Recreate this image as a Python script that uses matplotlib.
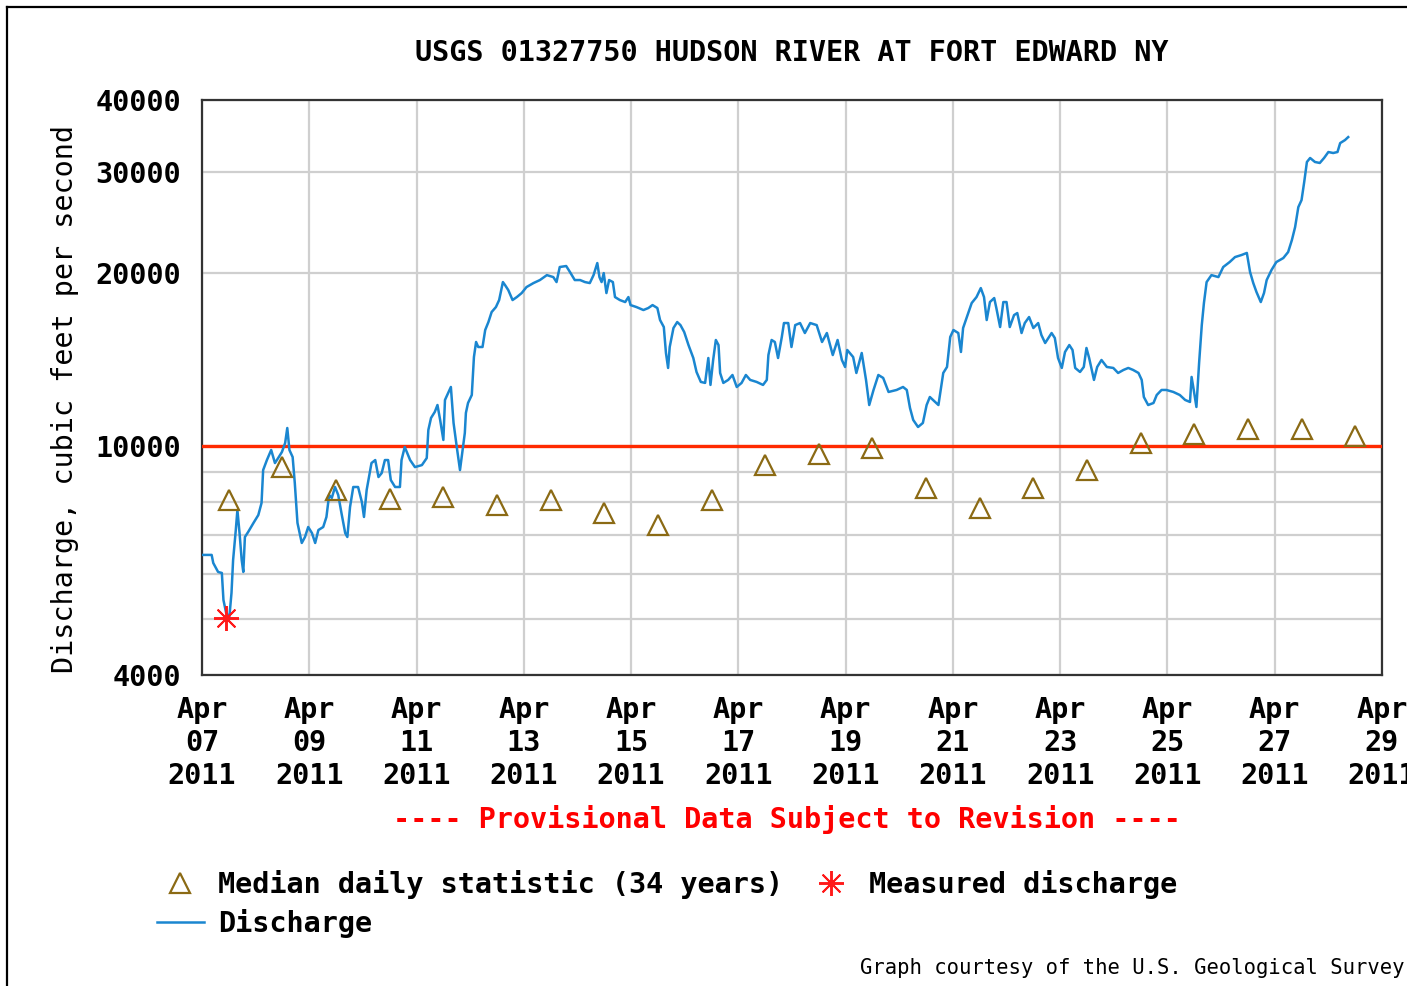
"""
USGS daily discharge graph for the Hudson River at Fort Edward, NY (April 2011).
"""

import pandas as pd
from matplotlib import pyplot, dates, ticker
from matplotlib.lines import Line2D

start = pd.Timestamp('2011-04-07')

# Instantaneous discharge (days since Apr 07 00:00, cfs).
q_days = [
    0.02, 0.18, 0.21, 0.30, 0.37, 0.40, 0.45, 0.51, 0.55, 0.58, 0.63, 0.66,
    0.70, 0.74, 0.77, 0.80, 0.86, 0.96, 1.05, 1.11, 1.14, 1.21, 1.29, 1.36,
    1.42, 1.49, 1.55, 1.59, 1.63, 1.69, 1.73, 1.78, 1.86, 1.92, 1.98, 2.05,
    2.11, 2.17, 2.26, 2.32, 2.37, 2.42, 2.48, 2.54, 2.60, 2.67, 2.71, 2.76,
    2.82, 2.91, 2.98, 3.02, 3.07, 3.16, 3.23, 3.29, 3.35, 3.41, 3.47, 3.52,
    3.60, 3.69, 3.72, 3.78, 3.88, 3.97, 4.10, 4.19, 4.22, 4.27, 4.34, 4.39,
    4.44, 4.50, 4.53, 4.59, 4.64, 4.69, 4.75, 4.81,
    4.90, 4.92, 4.96, 5.03, 5.07, 5.11, 5.15, 5.23, 5.28, 5.34, 5.40, 5.48,
    5.54, 5.61, 5.65, 5.71, 5.79, 5.87, 5.96, 6.05, 6.18, 6.30, 6.43, 6.55,
    6.61, 6.67, 6.79, 6.86, 6.95, 7.05, 7.14, 7.23, 7.30, 7.37, 7.41, 7.45,
    7.49, 7.54, 7.59, 7.66, 7.70, 7.79, 7.89, 7.95, 7.99, 8.10, 8.23, 8.32,
    8.40, 8.49, 8.54, 8.61, 8.65, 8.69, 8.72, 8.79, 8.86, 8.92, 8.99, 9.07,
    9.16, 9.22, 9.30, 9.38, 9.44, 9.48, 9.53, 9.58, 9.63, 9.66, 9.72, 9.81,
    9.89, 9.97, 10.06, 10.14, 10.22, 10.34,
    10.46, 10.53, 10.56, 10.62, 10.68, 10.74, 10.81, 10.85, 10.93, 10.99,
    11.06, 11.15, 11.24, 11.34, 11.46, 11.56, 11.65, 11.76, 11.85, 11.93,
    11.99, 12.03, 12.14, 12.20, 12.30, 12.38, 12.44, 12.52, 12.61, 12.70,
    12.80, 12.95, 13.07, 13.14, 13.20, 13.26, 13.35, 13.44, 13.51, 13.57,
    13.67, 13.73, 13.82, 13.89, 13.95, 14.01, 14.10, 14.15, 14.19, 14.26,
    14.35, 14.44, 14.52, 14.58, 14.63, 14.69, 14.77, 14.81, 14.88, 14.94,
    15.00, 15.06, 15.14, 15.20, 15.28, 15.34, 15.42, 15.50, 15.59, 15.65,
    15.72, 15.78, 15.84, 15.90, 15.96, 16.03, 16.09, 16.17, 16.23, 16.28,
    16.37, 16.44, 16.49, 16.54, 16.59, 16.63, 16.69, 16.77, 16.87, 16.99,
    17.08, 17.18, 17.27, 17.36, 17.46, 17.52, 17.56, 17.64, 17.74, 17.80,
    17.89, 17.98, 18.11, 18.23, 18.33, 18.42, 18.45, 18.49, 18.54, 18.59,
    18.64, 18.68, 18.73, 18.82, 18.95, 19.04, 19.16, 19.26, 19.38, 19.48,
    19.54, 19.60, 19.66, 19.74, 19.80, 19.85, 19.94, 20.03, 20.16, 20.25,
    20.32, 20.38, 20.44, 20.50, 20.55, 20.60, 20.66, 20.75, 20.84, 20.92,
    21.00, 21.09, 21.17, 21.22, 21.31, 21.37,
]
q_cfs = [
    6470, 6470, 6264, 6043, 6019, 5401, 5128, 5046, 5556, 6340, 7148, 7745,
    7062, 6340, 6043, 6951, 7091, 7354, 7590, 7966, 9088, 9460, 9849, 9347,
    9536, 9770, 10129, 10755, 9849, 9574, 8628, 7354, 6787, 6951, 7235, 7062,
    6787, 7148, 7235, 7532, 8224, 8128, 8492, 8224, 7652, 7062, 6951, 7838,
    8492, 8492, 8000, 7532, 8391, 9347, 9460, 8838, 8979, 9460, 9460, 8733,
    8492, 8492, 9460, 9967, 9460, 9197, 9271, 9536, 10670, 11197, 11470, 11792,
    11108, 10252, 12033, 12375, 12675, 10975, 9967, 9088,
    10542, 11423, 11889, 12275, 14291, 15178, 14876, 14876, 15924, 16440, 17112, 17457,
    17954, 19294, 19061, 18687, 17954, 18170, 18463, 18911, 19217, 19450, 19839, 19683,
    19294, 20493, 20574, 20088, 19450, 19450, 19294, 19217, 19839, 20820, 19683, 19294,
    20000, 18463, 19450, 19294, 18170, 17954, 17810, 18170, 17595, 17457, 17250, 17388,
    17595, 17388, 16573, 16115, 14524, 13679, 14876, 16051, 16440, 16240, 15797, 14994,
    14235, 13461, 12935, 12883, 14235, 12780, 14122, 15300, 14994, 13407, 12883, 13039,
    13299, 12675, 12883, 13299, 13039, 12935,
    12780, 13039, 14404, 15300, 15178, 14235, 15484, 16374, 16374, 14876,
    16240, 16374, 15733, 16374, 16240, 15178, 15733, 14404, 15300, 14122,
    13733, 14700, 14291, 13407, 14524, 13039, 11792, 12525, 13299, 13143,
    12425, 12525, 12675, 12525, 11654, 11108, 10798, 10975, 11792, 12177,
    11937, 11792, 13407, 13733, 15484, 15924, 15733, 14583, 16051, 16772,
    17739, 18170, 18836, 18170, 16573, 17810, 18098, 17388, 16115, 17810,
    17810, 16115, 16904, 17043, 15733, 16374, 16772, 16051, 16374, 15605,
    15116, 15422, 15733, 15422, 14235, 13679, 14583, 14994, 14700, 13679,
    13461, 13733, 14818, 14235, 13570, 13039, 13733, 14122, 13733, 13679,
    13407, 13570, 13679, 13570, 13407, 13039, 12177, 11792, 11889, 12275,
    12525, 12525, 12425, 12275, 12033, 11937, 13195, 12525, 11700, 13953,
    16240, 17739, 19294, 19839, 19683, 20493, 20905, 21326, 21500, 21680,
    20088, 19217, 18538, 17810, 18463, 19450, 20250, 20905, 21242, 21760,
    22829, 24046, 26049, 26790, 28818, 31208, 31712, 31208, 31085, 31712,
    32478, 32350, 32478, 33661, 34070, 34480,
]

# Median daily statistic (34 years), plotted at noon of each day.
median_day = list(range(7, 29))
median_cfs = [
    8060, 9200, 8390, 8100, 8160, 7900, 8060, 7650, 7290, 8060, 9280,
    9700, 9930, 8460, 7810, 8460, 9090, 10140, 10510, 10720, 10720, 10430,
]

# Field measurement.
meas_time = ['2011-04-07 10:45']
meas_cfs = [5020]

threshold = 10000
y_ticks = [4000, 10000, 20000, 30000, 40000]
y_minor = [5000, 6000, 7000, 8000, 9000]

q_time = start + pd.to_timedelta(q_days, unit='D')
median_time = [pd.Timestamp(2011, 4, d, 12) for d in median_day]
meas_time = pd.to_datetime(meas_time)

pyplot.rc('font', family='DejaVu Sans Mono', weight='bold', size=20.5)

fig = pyplot.figure(figsize=(14.07, 9.86), dpi=100)
ax = fig.add_axes([202 / 1407, 1 - 675 / 986, 1180 / 1407, 575 / 986])

ax.set_yscale('log')
ax.set_ylim(4000, 40000)
ax.set_xlim(pd.Timestamp('2011-04-07'), pd.Timestamp('2011-04-29'))
ax.yaxis.set_major_locator(ticker.FixedLocator(y_ticks))
ax.yaxis.set_major_formatter(ticker.FixedFormatter([str(v) for v in y_ticks]))
ax.yaxis.set_minor_locator(ticker.FixedLocator(y_minor))
ax.yaxis.set_minor_formatter(ticker.NullFormatter())
ax.xaxis.set_major_locator(dates.DayLocator(bymonthday=range(7, 30, 2)))
ax.xaxis.set_major_formatter(dates.DateFormatter('%b\n%d\n%Y'))
ax.tick_params(which='both', length=0)
ax.tick_params(axis='y', pad=15)
ax.tick_params(axis='x', pad=15)
for lab in ax.get_xticklabels():
    lab.set_linespacing(1.22)
ax.grid(which='both', color='#cfcfcf', linewidth=1.6)
ax.set_axisbelow(True)
for spine in ax.spines.values():
    spine.set_color('#333333')
    spine.set_linewidth(1.6)

ax.axhline(threshold, color='#ff2a00', linewidth=2.4, zorder=3)
ax.plot(q_time, q_cfs, color='#1a86d0', linewidth=1.8, zorder=4,
        label='Discharge')
ax.plot(median_time, median_cfs, linestyle='none', marker='^', markersize=14,
        markerfacecolor='none', markeredgecolor='#8b6a14', markeredgewidth=1.6,
        zorder=5, label='Median daily statistic (34 years)')
ax.plot(meas_time, meas_cfs, linestyle='none', marker=(8, 2, 0),
        markersize=18, color='#ff1a1a', markeredgewidth=1.4, zorder=6,
        label='Measured discharge')

ax.set_title('USGS 01327750 HUDSON RIVER AT FORT EDWARD NY',
             fontsize=20.5, fontweight='bold', pad=28)
ax.set_ylabel('Discharge, cubic feet per second')
ax.yaxis.set_label_coords(-0.104, 0.48)

fig.text(787 / 1407, 1 - 820 / 986,
         '---- Provisional Data Subject to Revision ----',
         color='#ff0000', ha='center', va='center')

handles, labels = ax.get_legend_handles_labels()
order = [1, 0, 2]
fig.legend([handles[i] for i in order], [labels[i] for i in order],
           ncol=2, frameon=False, loc='upper left',
           bbox_to_anchor=(157 / 1407, 1 - 870 / 986),
           borderpad=0, borderaxespad=0, handlelength=1.65,
           handletextpad=0.5, columnspacing=0.85, labelspacing=0.35)

fig.text(1405 / 1407, 1 - 968 / 986,
         'Graph courtesy of the U.S. Geological Survey',
         fontsize=14.8, fontweight='normal', ha='right', va='center')

# Outer frame of the original graphic (left and top edges only).
fig.add_artist(Line2D([7 / 1407, 7 / 1407], [0, 1 - 7 / 986],
                      transform=fig.transFigure, color='black', linewidth=1.6))
fig.add_artist(Line2D([7 / 1407, 1], [1 - 7 / 986, 1 - 7 / 986],
                      transform=fig.transFigure, color='black', linewidth=1.6))

fig.savefig('out.png', dpi=100)
